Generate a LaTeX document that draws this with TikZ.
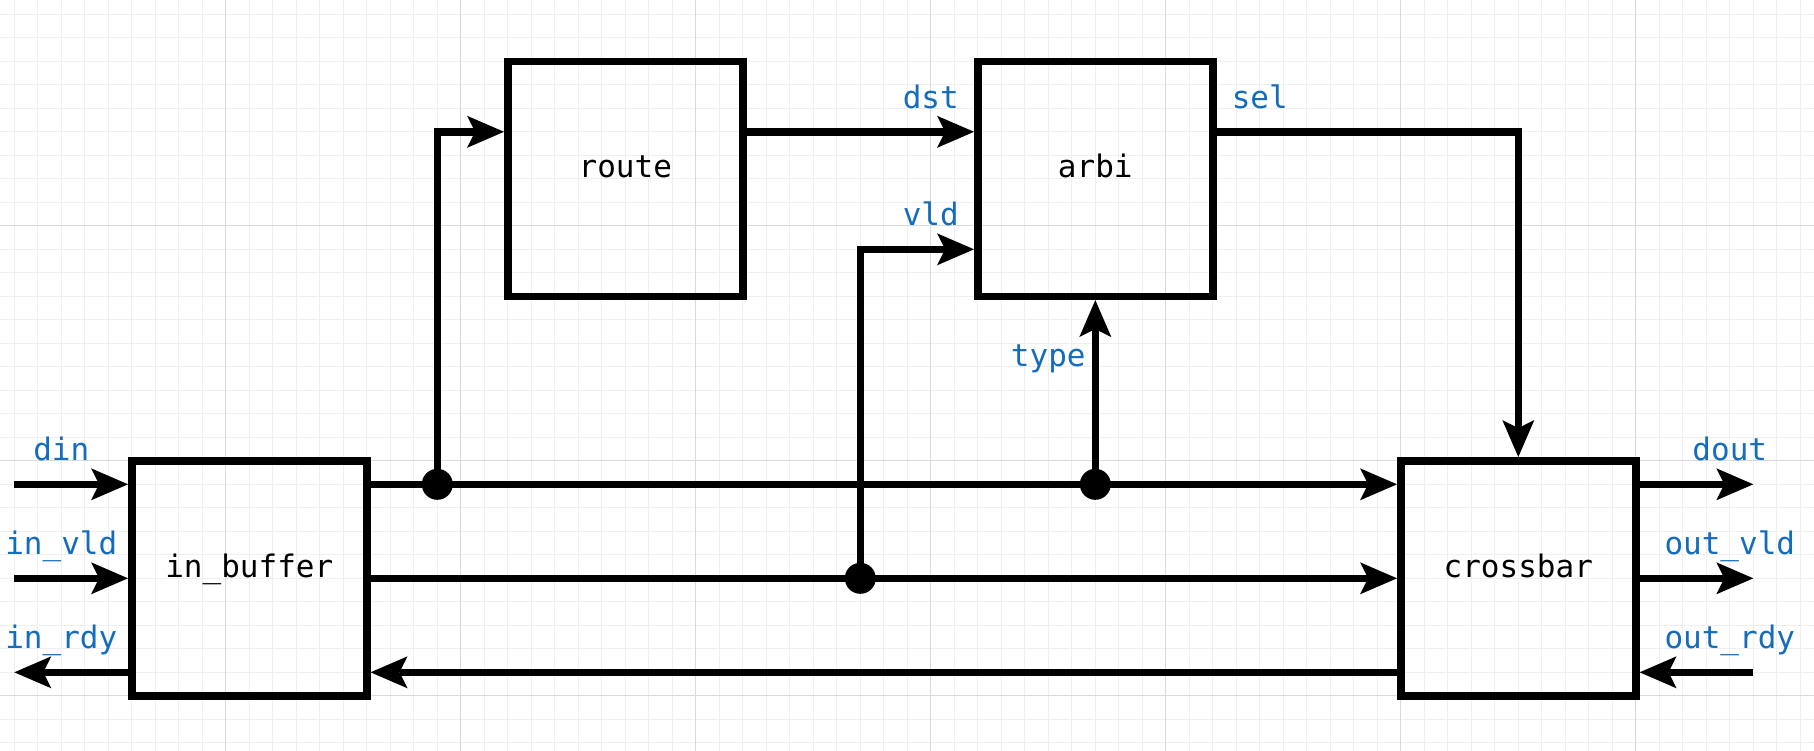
\documentclass[tikz,border=0pt]{standalone}
\usepackage{fontspec}
\newfontfamily\dmono{DejaVu Sans Mono}
\newcommand{\lblfnt}{\fontsize{31pt}{37pt}\selectfont\dmono}
\usetikzlibrary{arrows.meta,calc}
\definecolor{lblblue}{RGB}{20,108,188}
\definecolor{gridminor}{RGB}{239,239,239}
\definecolor{gridmajor}{RGB}{218,218,218}
\begin{document}
\begin{tikzpicture}[x=23.5pt,y=-23.5pt,
  block/.style={draw=black,line width=7.5pt,minimum width=235pt,minimum height=235pt,inner sep=0pt,font=\lblfnt,text height=11pt,text depth=13pt},
  sig/.style={line width=7.5pt,-{Stealth[length=37pt,width=32pt,inset=8pt,line width=0pt]}},
  junc/.style={circle,fill=black,minimum size=31pt,inner sep=0pt},
  lbl/.style={anchor=base,inner sep=0pt,text=lblblue,font=\lblfnt},
  gmin/.style={draw=gridminor,line width=1pt},
  gmaj/.style={draw=gridmajor,line width=1pt},
]
\useasboundingbox (-14.3pt,14.3pt) rectangle (1799.7pt,-735.7pt);
\fill[white] (-14.3pt,14.3pt) rectangle (1799.7pt,-735.7pt);
% grid
\foreach \i in {0,...,76} \draw[gmin] (\i,-1) -- (\i,32);
\foreach \j in {0,...,31} \draw[gmin] (-1,\j) -- (77,\j);
\foreach \i in {9,19,...,69} \draw[gmaj] (\i,-1) -- (\i,32);
\foreach \j in {9,19,29} \draw[gmaj] (-1,\j) -- (77,\j);

% blocks
\node[block] (inb) at (10,24) {in\_buffer};
\node[block] (route) at (26,7) {route};
\node[block] (arbi) at (46,7) {arbi};
\node[block] (xbar) at (64,24) {crossbar};

% helper coordinates
\coordinate (dinS) at (0,20);
\coordinate (vldS) at (0,24);
\coordinate (rdyE) at (0,28);
\coordinate (doutE) at (74,20);
\coordinate (ovldE) at (74,24);
\coordinate (ordyS) at (74,28);
\coordinate (r5) at (0,5);
\coordinate (r10) at (0,10);
\coordinate (j1) at (18,20);
\coordinate (j2) at (36,24);
\coordinate (j3) at (46,20);

% connectors
\draw[sig] (dinS) -- (dinS -| inb.west);
\draw[sig] (vldS) -- (vldS -| inb.west);
\draw[sig] (rdyE -| inb.west) -- (rdyE);
\draw[sig] (inb.east |- j1) -- (xbar.west |- j1);
\draw[sig] (inb.east |- j2) -- (xbar.west |- j2);
\draw[sig] (xbar.west |- rdyE) -- (inb.east |- rdyE);
\draw[sig] (xbar.east |- doutE) -- (doutE);
\draw[sig] (xbar.east |- ovldE) -- (ovldE);
\draw[sig] (ordyS) -- (xbar.east |- ordyS);
\draw[sig] (j1) |- (route.west |- r5);
\draw[sig] (route.east |- r5) -- (arbi.west |- r5);
\draw[sig] (j2) |- (arbi.west |- r10);
\draw[sig] (j3) -- (arbi.south);
\draw[sig] (arbi.east |- r5) -| (xbar.north);

% junction dots
\node[junc] (d1) at (j1) {};
\node[junc] (d2) at (j2) {};
\node[junc] (d3) at (j3) {};

% labels
\node[lbl] (ldin) at (2,19) {din};
\node[lbl] (linvld) at (2,23) {in\_vld};
\node[lbl] (linrdy) at (2,27) {in\_rdy};
\node[lbl] (ldout) at (73,19) {dout};
\node[lbl] (loutvld) at (73,23) {out\_vld};
\node[lbl] (loutrdy) at (73,27) {out\_rdy};
\node[lbl] (ldst) at (39,4) {dst};
\node[lbl] (lvld) at (39,9) {vld};
\node[lbl] (lsel) at (53,4) {sel};
\node[lbl] (ltype) at (44,15) {type};
\end{tikzpicture}
\end{document}
